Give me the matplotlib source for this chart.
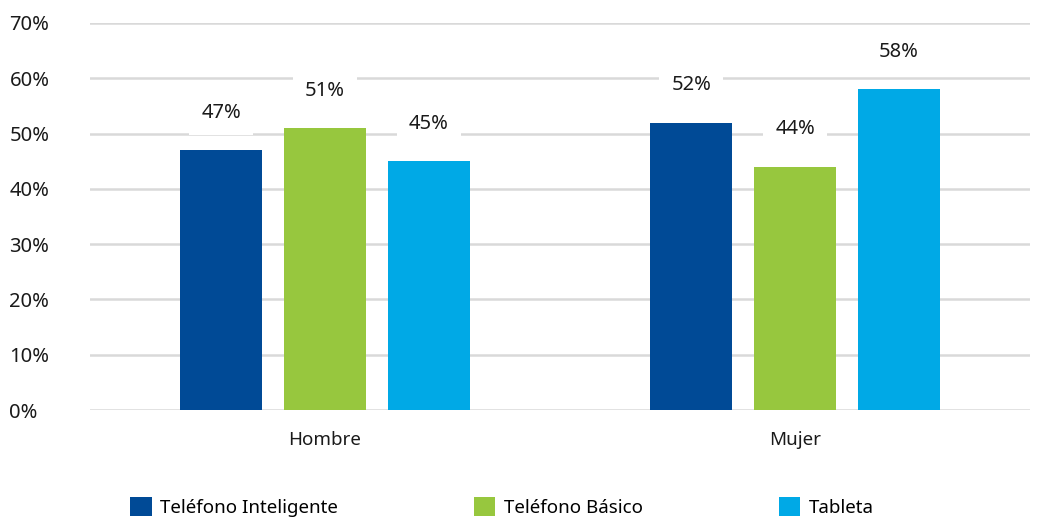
import matplotlib
matplotlib.use("Agg")
import matplotlib.pyplot as plt
import numpy as np

categories = ["Hombre", "Mujer"]
series_names = ["Teléfono Inteligente", "Teléfono Básico", "Tableta"]
inteligente = [47, 52]
basico = [51, 44]
tableta = [45, 58]
series_values = [inteligente, basico, tableta]
colors = ["#004a96", "#97c73e", "#00a9e6"]
yticks = [0, 10, 20, 30, 40, 50, 60, 70]

plt.rcParams['font.family'] = ['Noto Sans', 'DejaVu Sans']

fig = plt.figure(figsize=(10.37, 5.2), dpi=100)
ax = fig.add_axes([90/1037, 1-410/520, 940/1037, 387/520])

x = np.arange(len(categories))
width = 0.175
offsets = [-0.221, 0, 0.221]
handles = []
for vals, off, col, name in zip(series_values, offsets, colors, series_names):
    bars = ax.bar(x + off, vals, width, color=col, label=name, zorder=3)
    handles.append(bars)
    for b, v in zip(bars, vals):
        ax.annotate(f"{v}%", (b.get_x() + b.get_width()/2, v), xytext=(0, 27),
                    textcoords="offset points", ha="center", va="center",
                    fontsize=14.5, color="#1a1a1a", zorder=4,
                    bbox=dict(boxstyle="square,pad=0.6", fc="white", ec="none"))

ax.set_xlim(-0.5, 1.5)
ax.set_ylim(0, 70)
ax.set_yticks(yticks)
ax.set_yticklabels([f"{t}%" for t in yticks], fontsize=14.5, color="#1a1a1a", ha="left")
ax.tick_params(axis="y", length=0, pad=58)
ax.set_xticks(x)
ax.set_xticklabels(categories, fontsize=13.5, color="#1a1a1a")
ax.tick_params(axis="x", length=0, pad=15)
ax.grid(axis="y", color="#d9d9d9", linewidth=1.8, zorder=0)
for s in ax.spines.values():
    s.set_visible(False)

fig.legend(handles=handles, labels=series_names, loc="center left",
           bbox_to_anchor=(130/1037, 1-507/520), ncol=3, frameon=False,
           fontsize=13.5, handlelength=1.15, handleheight=1.15,
           handletextpad=0.45, columnspacing=7.25, borderaxespad=0, borderpad=0)

fig.savefig("out.png", dpi=100)
